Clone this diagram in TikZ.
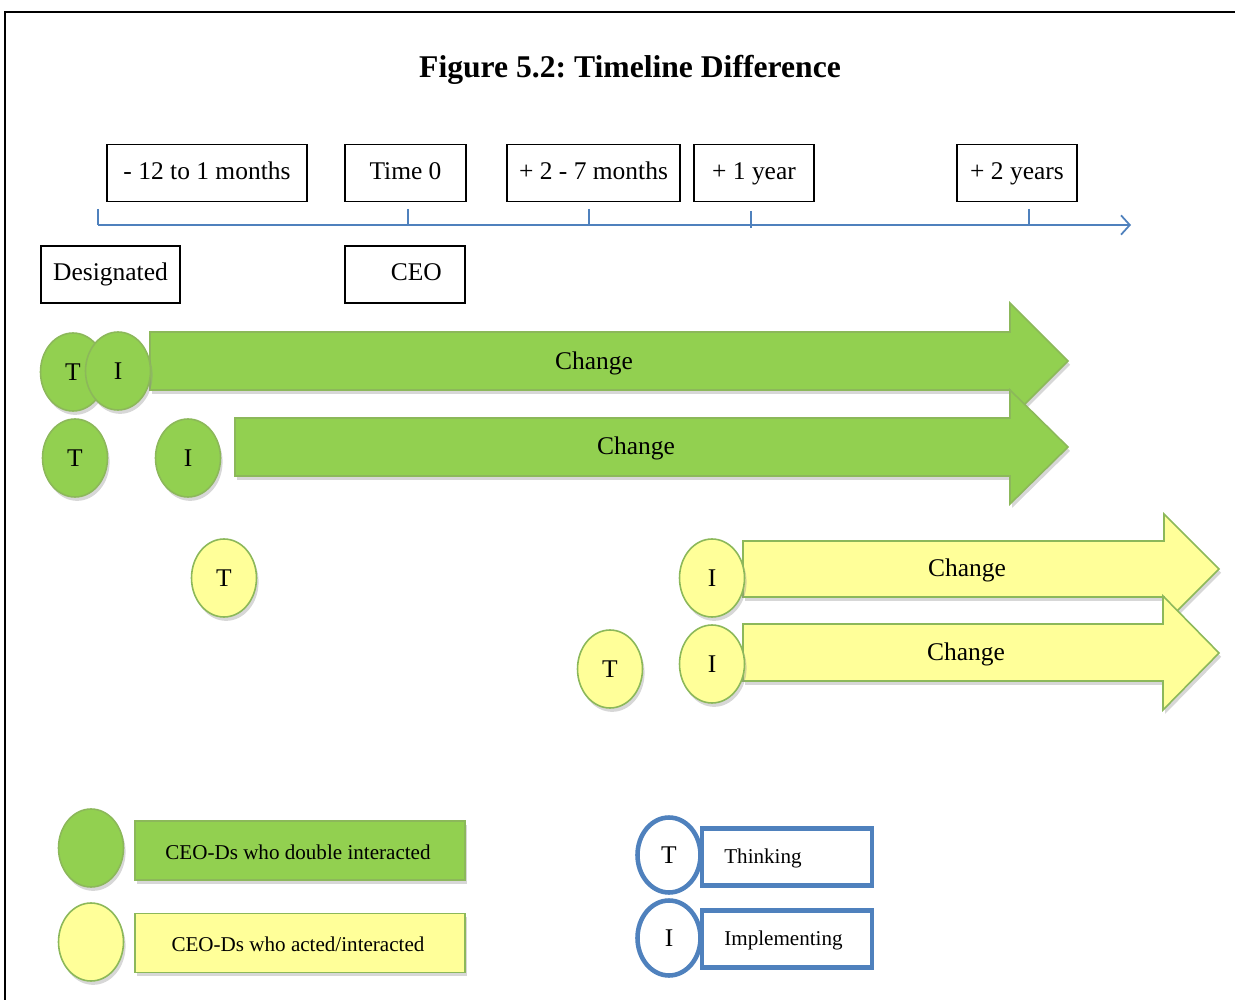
\documentclass[tikz,border=0pt]{standalone}
\usepackage{fontspec}
\setmainfont{Liberation Serif}
\usetikzlibrary{shadows,arrows.meta,shapes.geometric}
\definecolor{gfill}{HTML}{92D050}
\definecolor{gline}{HTML}{8CB85A}
\definecolor{yfill}{HTML}{FFFF99}
\definecolor{axisblue}{HTML}{4F81BD}
\tikzset{
  shd/.style={drop shadow={shadow xshift=1.2pt,shadow yshift=-2.2pt,fill=black!45,opacity=.35}},
  tbox/.style={draw=black,line width=0.6pt,minimum height=1.14cm,inner sep=0pt,text height=10pt,text depth=3pt,font=\fontsize{14.5}{16}\selectfont},
  ell/.style={ellipse,draw=gline,line width=0.9pt,minimum width=1.3cm,minimum height=1.56cm,inner sep=0pt,shd,font=\fontsize{14.5}{16}\selectfont},
  gell/.style={ell,fill=gfill},
  yell/.style={ell,fill=yfill},
  garrow/.style={fill=gfill,draw=gline,line width=0.9pt,shd},
  yarrow/.style={fill=yfill,draw=gline,line width=0.9pt,shd},
  lbl/.style={font=\fontsize{14.5}{16}\selectfont,inner sep=0pt},
  legrect/.style={draw=gline,line width=0.9pt,minimum width=6.6cm,minimum height=1.18cm,inner sep=0pt,shd},
  legtxt/.style={font=\fontsize{12}{14}\selectfont,inner sep=0pt},
  bell/.style={ellipse,draw=axisblue,line width=2.6pt,minimum width=1.26cm,minimum height=1.5cm,inner sep=0pt,font=\fontsize{14.5}{16}\selectfont},
  brect/.style={draw=axisblue,line width=2.6pt,minimum width=3.4cm,minimum height=1.14cm,inner sep=0pt},
  tick/.style={draw=axisblue,line width=1pt}
}
\begin{document}
\frenchspacing
\begin{tikzpicture}[x=0.02cm,y=-0.02cm]
\useasboundingbox (0,0) rectangle (1235,1000);
% frame
\draw[line width=0.8pt] (5,1000) -- (5,12) -- (1235,12);
% title
\node[font=\bfseries\fontsize{18}{20}\selectfont] (title) at (630,70) {Figure 5.2: Timeline Difference};
% time boxes
\node[tbox,minimum width=4cm] (b1) at (207,173) {- 12 to 1 months};
\node[tbox,minimum width=2.42cm] (b2) at (405.5,173) {Time 0};
\node[tbox,minimum width=3.46cm] (b3) at (593.5,173) {+ 2 - 7 months};
\node[tbox,minimum width=2.4cm] (b4) at (754,173) {+ 1 year};
\node[tbox,minimum width=2.4cm] (b5) at (1017,173) {+ 2 years};
% axis
\coordinate (ax0) at (98,225);
\coordinate (ax1) at (1131,225);
\draw[axisblue,line width=1pt,-{Straight Barb[length=5pt,width=11pt,line width=1pt]}] (ax0) -- (ax1);
\draw[tick] (98,209) -- (98,225);
\draw[tick] (408,209) -- (408,225);
\draw[tick] (589,209) -- (589,225);
\draw[tick] (751,211) -- (751,228);
\draw[tick] (1029,209) -- (1029,225);
% designated / CEO
\node[tbox,minimum width=2.78cm] (des) at (110.5,274.5) {Designated};
\node[tbox,minimum width=2.4cm,text width=2.4cm,align=center] (ceo) at (405,274.5) {\hspace*{0.45cm}CEO};
% green row 1
\path[garrow] (150,332) -- (1010,332) -- (1010,303) -- (1068,361) -- (1010,419) -- (1010,390) -- (150,390) -- cycle;
\node[lbl] (ch1) at (594,363) {Change};
\node[gell] (t1) at (73,372) {T};
\node[gell] (i1) at (118,371) {I};
% green row 2
\path[garrow] (235,418) -- (1010,418) -- (1010,390) -- (1068,447) -- (1010,504) -- (1010,476) -- (235,476) -- cycle;
\node[lbl] (ch2) at (636,448) {Change};
\node[gell] (t2) at (75,458) {T};
\node[gell] (i2) at (188,458) {I};
% yellow row 1
\path[yarrow] (743,541) -- (1164,541) -- (1164,514) -- (1219,569) -- (1164,624) -- (1164,597) -- (743,597) -- cycle;
\node[lbl] (ch3) at (967,570) {Change};
\node[yell] (t3) at (224,578) {T};
\node[yell] (i3) at (712,578) {I};
% yellow row 2
\path[yarrow] (743,624) -- (1163,624) -- (1163,596) -- (1219,653) -- (1163,710) -- (1163,681) -- (743,681) -- cycle;
\node[lbl] (ch4) at (966,654) {Change};
\node[yell] (t4) at (610,669) {T};
\node[yell] (i4) at (712,664) {I};
% legend
\node[gell] (lg) at (91,848) {};
\node[legrect,fill=gfill] (lgr) at (300,850.5) {};
\node[legtxt] (lgt) at (298,852) {CEO-Ds who double interacted};
\node[yell] (ly) at (91,942) {};
\node[legrect,fill=yfill] (lyr) at (300,943) {};
\node[legtxt] (lyt) at (298,944) {CEO-Ds who acted/interacted};
\node[bell] (lt) at (669,855) {T};
\node[brect] (ltr) at (787,857) {};
\node[anchor=west,font=\fontsize{12}{14}\selectfont,inner sep=0pt] (ltt) at (724,858) {Thinking};
\node[bell] (li) at (669,938) {I};
\node[brect] (lir) at (787,939) {};
\node[anchor=west,font=\fontsize{12}{14}\selectfont,inner sep=0pt] (lit) at (724,940) {Implementing};
\end{tikzpicture}
\end{document}
